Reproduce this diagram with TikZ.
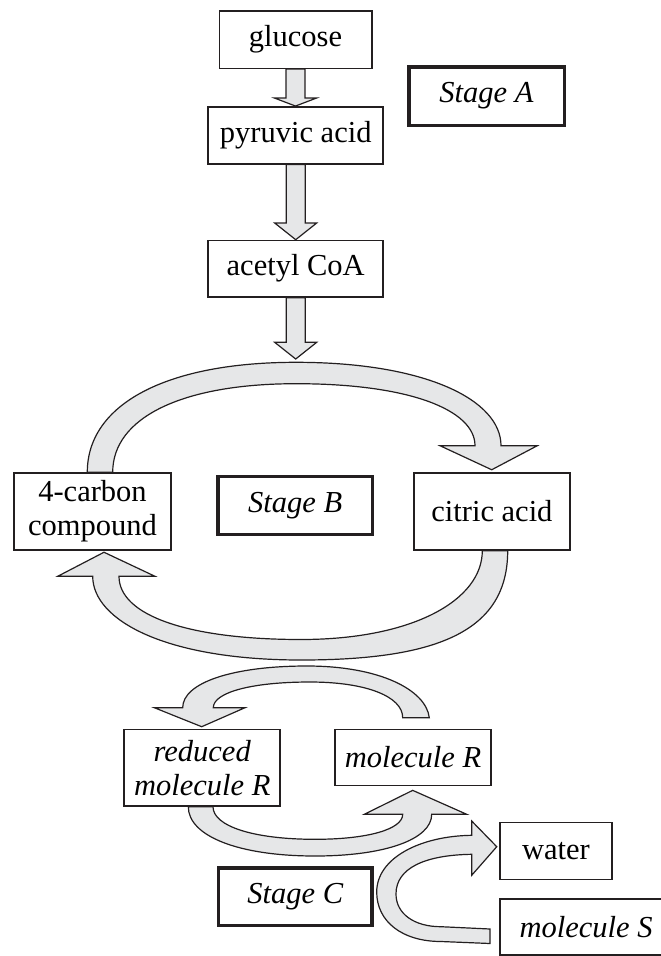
\documentclass[tikz,border=0pt]{standalone}
\usepackage{fontspec}
\setmainfont{Liberation Serif}
\usetikzlibrary{calc}
\pgfdeclarelayer{background}
\pgfsetlayers{background,main}
\definecolor{arrowgray}{RGB}{230,231,232}
\definecolor{inkline}{RGB}{35,31,32}
\tikzset{
  box/.style={draw=inkline, line width=1.5pt, fill=white, inner sep=0pt, align=center,
    font=\fontsize{30.5}{34}\selectfont},
  stagebox/.style={box, line width=3.5pt, font=\fontsize{30.5}{34}\selectfont\itshape},
  blockarr/.style={draw=inkline, line width=1.2pt, fill=arrowgray, line join=miter},
}
\newcommand{\vblockarrow}[3]{%
  \draw[blockarr] ($(#1)+(-9.5,0)$) -- ($(#1 |- #2)+(-9.5,-#3)$) -- ($(#1 |- #2)+(-21,-#3)$)
    -- (#1 |- #2) -- ($(#1 |- #2)+(21,-#3)$) -- ($(#1 |- #2)+(9.5,-#3)$) -- ($(#1)+(9.5,0)$) -- cycle;}
\begin{document}
\begin{tikzpicture}[x=1pt,y=-1pt]
\useasboundingbox (0,0) rectangle (661,956);

% boxes
\node[box, minimum width=152.5, minimum height=57.5] (glucose) at (295.5,39.5) {glucose};
\node[box, minimum width=175, minimum height=57] (pyruvic) at (295.7,135.3) {pyruvic acid};
\node[box, minimum width=175, minimum height=56.5] (acetyl) at (295.7,268.7) {acetyl CoA};
\node[stagebox, minimum width=155.5, minimum height=58.5] (stageA) at (486.5,96) {Stage A};

\node[box, minimum width=157, minimum height=77] (fourc) at (92.5,511.5) {4-carbon\\compound};
\node[stagebox, minimum width=154.5, minimum height=58] (stageB) at (295.2,505.5) {Stage B};
\node[box, minimum width=156, minimum height=77] (citric) at (491.9,511.5) {citric acid};

\node[box, minimum width=156, minimum height=76.5, font=\fontsize{30.5}{34}\selectfont\itshape] (reduced) at (202.2,767.7) {reduced\\molecule R};
\node[box, minimum width=156, minimum height=56, font=\fontsize{30.5}{34}\selectfont\itshape] (molR) at (413,757.3) {molecule R};
\node[box, minimum width=112, minimum height=57] (water) at (556,851.2) {water};
\node[stagebox, minimum width=153.8, minimum height=57.5] (stageC) at (295.3,896.5) {Stage C};
\node[box, minimum width=172, minimum height=56, font=\fontsize{30.5}{34}\selectfont\itshape] (molS) at (586,927) {molecule S};

\coordinate (cyctop) at (295.5,359);

\begin{pgfonlayer}{background}
% straight block arrows
\vblockarrow{glucose.south}{pyruvic.north}{8}
\vblockarrow{pyruvic.south}{acetyl.north}{16.7}
\vblockarrow{acetyl.south}{cyctop}{16.7}

% upper half of cycle: 4-carbon compound -> citric acid
\draw[blockarr] ($(fourc.north)+(-5.2,0)$) .. controls (87.3,404) and (166.6,362.3) .. (296,362.3)
  .. controls (425.6,362.3) and (501,400) .. (501,445.7)
  -- (537.3,445.7) -- ($(citric.north)+(-0.2,-2.5)$) -- (440,445.7) -- (475,445.7)
  .. controls (475,410) and (409.5,383.7) .. (296,383.7)
  .. controls (182.4,383.7) and (112.7,417.4) .. ($(fourc.north)+(20.2,0)$) -- cycle;

% lower half of cycle: citric acid -> 4-carbon compound
\draw[blockarr] ($(citric.south)+(15.8,0)$) .. controls (507.7,630) and (440,660) .. (301,660)
  .. controls (165,660) and (92.7,620) .. (92.7,576.3)
  -- (57.7,576.3) -- ($(fourc.south)+(11.5,1.5)$) -- (155,576.3) -- (119,576.3)
  .. controls (119,615.4) and (188,639.5) .. (301,639.5)
  .. controls (413,639.5) and (482.3,600) .. ($(citric.south)+(-9.6,0)$) -- cycle;

% molecule R -> reduced molecule R
\draw[blockarr] (429.3,717.7) .. controls (426,690) and (380,666) .. (307,666)
  .. controls (232.6,666) and (182.7,682.7) .. (182.7,707.7)
  -- (154.3,707.7) -- ($(reduced.north)+(-0.5,-2)$) -- (245,707.7) -- (213.3,707.7)
  .. controls (213.3,692.3) and (252,682) .. (310,682)
  .. controls (365.6,682) and (402.7,696.3) .. (402.7,717.7) -- cycle;

% reduced molecule R -> molecule R
\draw[blockarr] ($(reduced.south)+(-13.9,0)$) .. controls (188.3,836.3) and (239,856) .. (315,856)
  .. controls (385,856) and (431.7,839.3) .. (431.7,814.3)
  -- (466.7,814.3) -- ($(molR.south)+(-0.3,4.3)$) -- (364.3,814.3) -- (402.7,814.3)
  .. controls (402.7,829.3) and (367.6,839.3) .. (315,839.3)
  .. controls (253.8,839.3) and (213,826.3) .. ($(reduced.south)+(10.8,0)$) -- cycle;

% molecule S -> water
\draw[blockarr] (490,943.5) -- (441,941.5)
  .. controls (402.4,941.5) and (376.7,921.7) .. (376.7,892)
  .. controls (376.7,858) and (420,836) .. (471.7,835.3)
  -- (471.7,821) -- ($(water.west)+(-2.5,-4.5)$) -- (471.7,875.3) -- (471.7,854.3)
  .. controls (425,855) and (396,868) .. (396,894)
  .. controls (396,913.6) and (414,926.7) .. (441,926.7)
  -- (490,929) -- cycle;
\end{pgfonlayer}
\end{tikzpicture}
\end{document}
